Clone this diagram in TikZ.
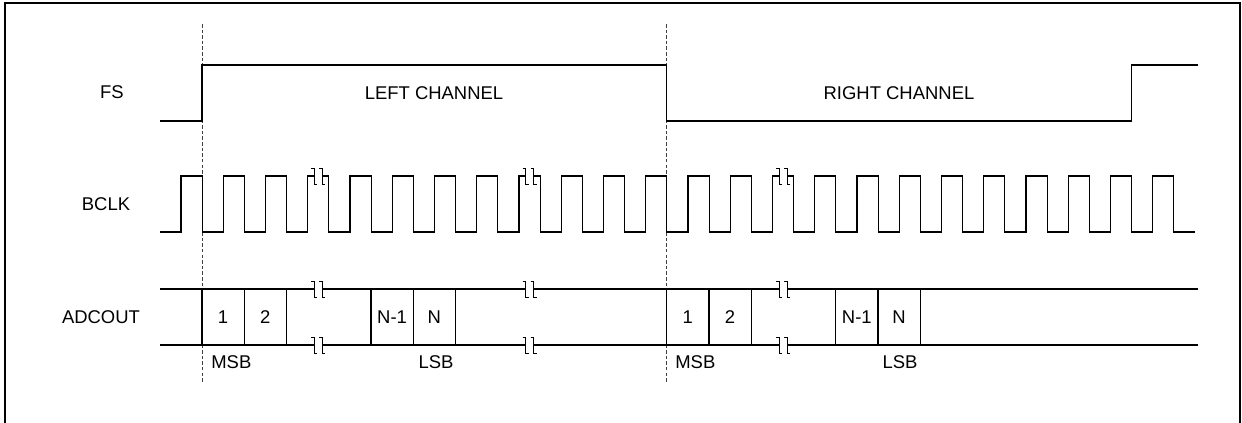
\documentclass[tikz,border=0pt]{standalone}
\usepackage{fontspec}
\setmainfont{Liberation Sans}
\usepackage{tikz}

\begin{document}
\begin{tikzpicture}[
    x=0.02cm, y=-0.02cm,
    wave/.style={line width=0.6pt, black},
    guide/.style={line width=0.5pt, black!75, dash pattern=on 2pt off 1.2pt},
    frame/.style={line width=1pt, black},
    lbl/.style={font=\fontsize{10.5}{12}\selectfont, inner sep=0pt},
    brk/.pic={
        \fill[white] (-4,-9) rectangle (4,9);
        \draw[line width=0.5pt] (-7,-8) -- (-4,-8) -- (-4,8) -- (-1,8);
        \draw[line width=0.5pt] (1,-8) -- (4,-8) -- (4,8) -- (7,8);
    }
]
    \useasboundingbox (0,0) rectangle (1242,423);
    \draw[frame] (5,423) -- (5,3) -- (1240,3) -- (1240,423);

    \node[lbl] (fs) at (112,92) {FS};
    \node[lbl] (bclk) at (106,204) {BCLK};
    \node[lbl] (adcout) at (101,317) {ADCOUT};

    \draw[guide] (202,24) -- (202,382);
    \draw[guide] (666.75,24) -- (666.75,382);

    \draw[wave] (160,121) -- (202,121) -- (202,65) -- (666.75,65) -- (666.75,121) -- (1131.5,121) -- (1131.5,65) -- (1198,65);
    \node[lbl] (lch) at (434,93) {LEFT CHANNEL};
    \node[lbl] (rch) at (899,93) {RIGHT CHANNEL};

    \draw[wave] (160,232) \foreach \k in {0,...,23} { -- ({181+42.25*\k},232) -- ++(0,-56) -- ++(21.125,0) -- ++(0,56) } -- (1195,232);
    \foreach \k in {3,8,14} \pic at ({191.5+42.25*\k},176) {brk};

    \draw[wave] (160,289) -- (1198,289);
    \draw[wave] (160,345) -- (1198,345);
    \foreach \k in {0,1,2,4,5,6,11,12,13,15,16,17} \draw[wave] ({202+42.25*\k},289) -- ++(0,56);
    \foreach \x in {318.25,529.5,783} {
        \pic at (\x,289) {brk};
        \pic at (\x,345) {brk};
    }

    \foreach \k/\t [count=\i] in {0/1,1/2,4/N-1,5/N,11/1,12/2,15/N-1,16/N}
        \node[lbl] (bit\i) at ({223.1+42.25*\k},317) {\t};
    \node[lbl, anchor=west] (msbl) at (211,362) {MSB};
    \node[lbl] (lsbl) at (436,362) {LSB};
    \node[lbl, anchor=west] (msbr) at (675,362) {MSB};
    \node[lbl] (lsbr) at (900,362) {LSB};
\end{tikzpicture}
\end{document}
